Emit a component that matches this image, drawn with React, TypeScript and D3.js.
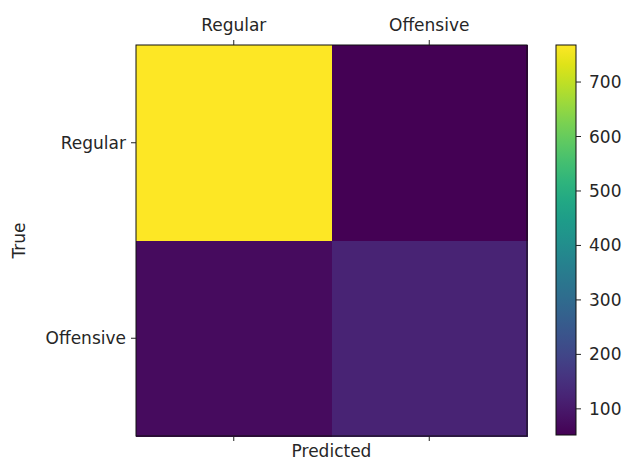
import React from "react";
import * as d3 from "d3";

const categories = ["Regular", "Offensive"];
const matrix: number[][] = [
  [768, 52],
  [74, 120],
];
const colorTicks = [100, 200, 300, 400, 500, 600, 700];
const vmin = 52;
const vmax = 768;

export default function App() {
  const W = 635, H = 460;
  const left = 136, top = 45, size = 391;
  const x = d3.scaleBand<string>().domain(categories).range([left, left + size]);
  const y = d3.scaleBand<string>().domain(categories).range([top, top + size]);
  const color = d3.scaleSequential(d3.interpolateViridis).domain([vmin, vmax]);
  const cbX = 556, cbW = 20;
  const cb = d3.scaleLinear().domain([vmin, vmax]).range([top + size - 1, top]);
  const stops = d3.range(0, 1.0001, 0.05);
  const font = "DejaVu Sans, sans-serif";
  const fs = 17;
  const tickColor = "#222";
  const textColor = "#262626";
  return (
    <svg width={W} height={H} style={{ position: "absolute", left: 0, top: 0 }} fontFamily={font}>
      <defs>
        <linearGradient id="vir" x1="0" y1="1" x2="0" y2="0">
          {stops.map((t) => (
            <stop key={t} offset={t} stopColor={d3.interpolateViridis(t)} />
          ))}
        </linearGradient>
      </defs>
      <rect width={W} height={H} fill="white" />
      {matrix.map((row, i) =>
        row.map((v, j) => (
          <rect
            key={`${i}-${j}`}
            x={x(categories[j])!}
            y={y(categories[i])!}
            width={x.bandwidth() + 0.6}
            height={y.bandwidth() + 0.6}
            fill={color(v)}
            shapeRendering="crispEdges"
          />
        ))
      )}
      <rect x={left} y={top} width={size} height={size} fill="none" stroke="#111" strokeWidth={1} />
      {categories.map((c) => {
        const cx = x(c)! + x.bandwidth() / 2;
        const cy = y(c)! + y.bandwidth() / 2;
        return (
          <g key={c}>
            <line x1={cx} x2={cx} y1={top} y2={top - 5} stroke={tickColor} />
            <line x1={cx} x2={cx} y1={top + size} y2={top + size + 5} stroke={tickColor} />
            <line x1={left} x2={left - 5} y1={cy} y2={cy} stroke={tickColor} />
            <text x={cx} y={top - 14} textAnchor="middle" fontSize={fs} fill={textColor}>{c}</text>
            <text x={left - 10} y={cy + 6} textAnchor="end" fontSize={fs} fill={textColor}>{c}</text>
          </g>
        );
      })}
      <text x={left + size / 2} y={457} textAnchor="middle" fontSize={fs} fill={textColor}>Predicted</text>
      <text transform={`translate(25,${top + size / 2}) rotate(-90)`} textAnchor="middle" fontSize={fs} fill={textColor}>True</text>
      <rect x={cbX} y={top} width={cbW} height={size - 1} fill="url(#vir)" stroke="#111" strokeWidth={1} />
      {colorTicks.map((t) => (
        <g key={t}>
          <line x1={cbX + cbW} x2={cbX + cbW + 5} y1={cb(t)} y2={cb(t)} stroke={tickColor} />
          <text x={cbX + cbW + 13} y={cb(t) + 6} fontSize={fs} fill={textColor}>{t}</text>
        </g>
      ))}
    </svg>
  );
}
